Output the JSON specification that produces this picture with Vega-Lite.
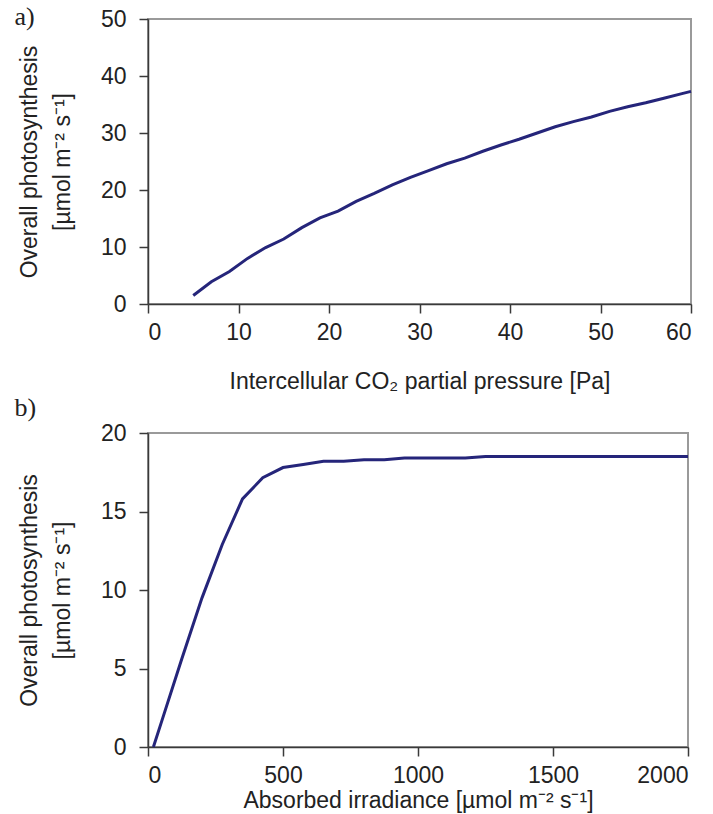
{
  "$schema": "https://vega.github.io/schema/vega-lite/v6.json",
  "background": "white",
  "padding": {"left": 13, "top": 3, "right": 20, "bottom": 0},
  "spacing": 0,
  "config": {
    "font": "Liberation Sans",
    "view": {"stroke": "#9a9a9a", "strokeWidth": 2},
    "axis": {
      "grid": false,
      "labelFont": "Liberation Sans",
      "titleFont": "Liberation Sans",
      "labelFontSize": 23,
      "titleFontSize": 23,
      "titleFontWeight": "normal",
      "labelColor": "#222222",
      "titleColor": "#222222",
      "domainColor": "#3a3a3a",
      "domainWidth": 1.5,
      "tickColor": "#3a3a3a",
      "tickWidth": 1.5,
      "tickSize": 9,
      "labelPadding": 8
    },
    "title": {"font": "Liberation Serif", "fontSize": 26, "fontWeight": "normal", "color": "#222222", "anchor": "start", "frame": "bounds"}
  },
  "datasets": {
    "co2": [
      {"ci": 5, "a": 1.5}, {"ci": 7, "a": 3.9}, {"ci": 9, "a": 5.7}, {"ci": 11, "a": 8.0},
      {"ci": 13, "a": 9.9}, {"ci": 15, "a": 11.4}, {"ci": 17, "a": 13.4}, {"ci": 19, "a": 15.1},
      {"ci": 21, "a": 16.3}, {"ci": 23, "a": 18.0}, {"ci": 25, "a": 19.4}, {"ci": 27, "a": 20.9},
      {"ci": 29, "a": 22.2}, {"ci": 31, "a": 23.4}, {"ci": 33, "a": 24.6}, {"ci": 35, "a": 25.6},
      {"ci": 37, "a": 26.8}, {"ci": 39, "a": 27.9}, {"ci": 41, "a": 28.9}, {"ci": 43, "a": 30.0},
      {"ci": 45, "a": 31.1}, {"ci": 47, "a": 32.0}, {"ci": 49, "a": 32.8}, {"ci": 51, "a": 33.8},
      {"ci": 53, "a": 34.6}, {"ci": 55, "a": 35.3}, {"ci": 57, "a": 36.1}, {"ci": 59, "a": 36.9},
      {"ci": 60, "a": 37.3}
    ],
    "light": [
      {"i": 20, "a": 0}, {"i": 50, "a": 1.6}, {"i": 125, "a": 5.6}, {"i": 200, "a": 9.5},
      {"i": 275, "a": 12.9}, {"i": 350, "a": 15.8}, {"i": 425, "a": 17.15}, {"i": 500, "a": 17.8},
      {"i": 575, "a": 18.0}, {"i": 650, "a": 18.2}, {"i": 725, "a": 18.2}, {"i": 800, "a": 18.3},
      {"i": 875, "a": 18.3}, {"i": 950, "a": 18.4}, {"i": 1025, "a": 18.4}, {"i": 1100, "a": 18.4},
      {"i": 1175, "a": 18.4}, {"i": 1250, "a": 18.5}, {"i": 1325, "a": 18.5}, {"i": 1400, "a": 18.5},
      {"i": 1475, "a": 18.5}, {"i": 1550, "a": 18.5}, {"i": 1625, "a": 18.5}, {"i": 1700, "a": 18.5},
      {"i": 1775, "a": 18.5}, {"i": 1850, "a": 18.5}, {"i": 1925, "a": 18.5}, {"i": 2000, "a": 18.5}
    ]
  },
  "vconcat": [
    {
      "title": {"text": "a)", "offset": -22, "dx": -4},
      "width": 543,
      "height": 285,
      "data": {"name": "co2"},
      "mark": {"type": "line", "color": "#25257a", "strokeWidth": 3},
      "encoding": {
        "x": {"field": "ci", "type": "quantitative", "scale": {"domain": [0, 60], "nice": false},
          "axis": {"values": [0, 10, 20, 30, 40, 50, 60], "title": "Intercellular CO₂ partial pressure [Pa]", "titlePadding": 26}},
        "y": {"field": "a", "type": "quantitative", "scale": {"domain": [0, 50], "nice": false},
          "axis": {"values": [0, 10, 20, 30, 40, 50], "title": ["Overall photosynthesis", "[µmol m⁻² s⁻¹]"], "titleLineHeight": 33, "titlePadding": 26, "labelPadding": 13}}
      }
    },
    {
      "title": {"text": "b)", "offset": 1, "dx": -4},
      "width": 540,
      "height": 314,
      "data": {"name": "light"},
      "mark": {"type": "line", "color": "#25257a", "strokeWidth": 3},
      "encoding": {
        "x": {"field": "i", "type": "quantitative", "scale": {"domain": [0, 2000], "nice": false},
          "axis": {"values": [0, 500, 1000, 1500, 2000], "format": "d", "title": "Absorbed irradiance [µmol m⁻² s⁻¹]", "titlePadding": 2}},
        "y": {"field": "a", "type": "quantitative", "scale": {"domain": [0, 20], "nice": false},
          "axis": {"values": [0, 5, 10, 15, 20], "title": ["Overall photosynthesis", "[µmol m⁻² s⁻¹]"], "titleLineHeight": 33, "titlePadding": 26, "labelPadding": 13}}
      }
    }
  ]
}
